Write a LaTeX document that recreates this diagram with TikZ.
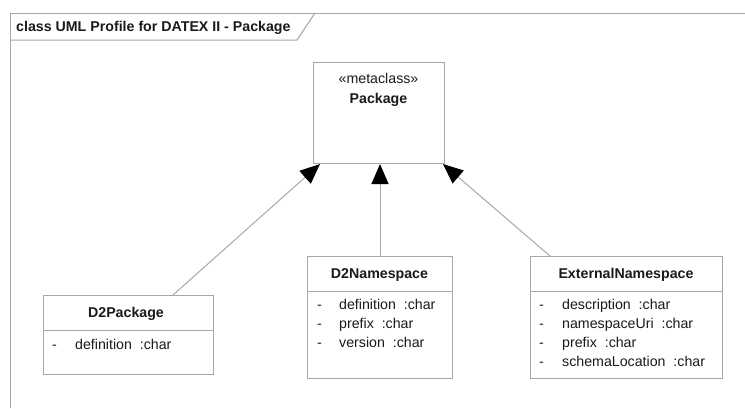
\documentclass[tikz,border=0pt]{standalone}
\usepackage{fontspec}
\setmainfont{Liberation Sans}
\usetikzlibrary{arrows.meta}
\definecolor{lineg}{HTML}{A8A8A8}
\definecolor{txt}{HTML}{1A1A1A}
\tikzset{
  umlbox/.style={draw=lineg, line width=1pt, fill=white, anchor=north west, inner sep=0pt},
  divider/.style={draw=lineg, line width=1pt},
  nametxt/.style={anchor=base, inner sep=0pt, font=\fontsize{14.2}{17}\selectfont\bfseries, text=txt},
  stereo/.style={anchor=base, inner sep=0pt, font=\fontsize{14.2}{17}\selectfont, text=txt},
  attr/.style={anchor=base west, inner sep=0pt, font=\fontsize{14.2}{17}\selectfont, text=txt},
  gen/.style={draw=lineg, line width=1pt, -{Triangle[length=20pt,width=17pt,color=black,fill=black]}},
  framel/.style={draw=lineg, line width=1pt},
}
\begin{document}
\begin{tikzpicture}[x=1pt,y=-1pt]
\useasboundingbox (0,0) rectangle (745,408);
% frame
\draw[framel] (10,408) -- (10,13) -- (745,13);
\draw[framel] (10,40) -- (297,40) -- (315,13);
\node[nametxt, anchor=base west] (title) at (16,31) {class UML Profile for DATEX II - Package};

% Package metaclass
\node[umlbox, minimum width=131pt, minimum height=101pt] (pkg) at (313,62) {};
\node[stereo] (pkgst) at (378.5,83) {«metaclass»};
\node[nametxt] (pkgname) at (378.5,103) {Package};

% D2Package
\node[umlbox, minimum width=170pt, minimum height=79pt] (d2p) at (43,295) {};
\draw[divider] (43,330) -- (213,330);
\node[nametxt] (d2pname) at (126,317) {D2Package};
\node[attr] (d2pd1) at (52,349) {-};
\node[attr] (d2pa1) at (75,349) {definition\ \ :char};

% D2Namespace
\node[umlbox, minimum width=145pt, minimum height=122pt] (d2n) at (307,256) {};
\draw[divider] (307,291) -- (452,291);
\node[nametxt] (d2nname) at (379.5,278) {D2Namespace};
\node[attr] (d2nd1) at (317,309) {-};
\node[attr] (d2na1) at (339,309) {definition\ \ :char};
\node[attr] (d2nd2) at (317,328) {-};
\node[attr] (d2na2) at (339,328) {prefix\ \ :char};
\node[attr] (d2nd3) at (317,347) {-};
\node[attr] (d2na3) at (339,347) {version\ \ :char};

% ExternalNamespace
\node[umlbox, minimum width=192pt, minimum height=122pt] (ext) at (530,256) {};
\draw[divider] (530,291) -- (722,291);
\node[nametxt] (extname) at (626,278) {ExternalNamespace};
\node[attr] (extd1) at (539,309) {-};
\node[attr] (exta1) at (562,309) {description\ \ :char};
\node[attr] (extd2) at (539,328) {-};
\node[attr] (exta2) at (562,328) {namespaceUri\ \ :char};
\node[attr] (extd3) at (539,347) {-};
\node[attr] (exta3) at (562,347) {prefix\ \ :char};
\node[attr] (extd4) at (539,366) {-};
\node[attr] (exta4) at (562,366) {schemaLocation\ \ :char};

% generalizations
\draw[gen] ([xshift=-41pt]d2p.north east) -- ([xshift=7pt]pkg.south west);
\draw[gen] (d2n.north) -- (d2n.north |- pkg.south);
\draw[gen] ([xshift=20pt]ext.north west) -- ([xshift=-2pt]pkg.south east);
\end{tikzpicture}
\end{document}
